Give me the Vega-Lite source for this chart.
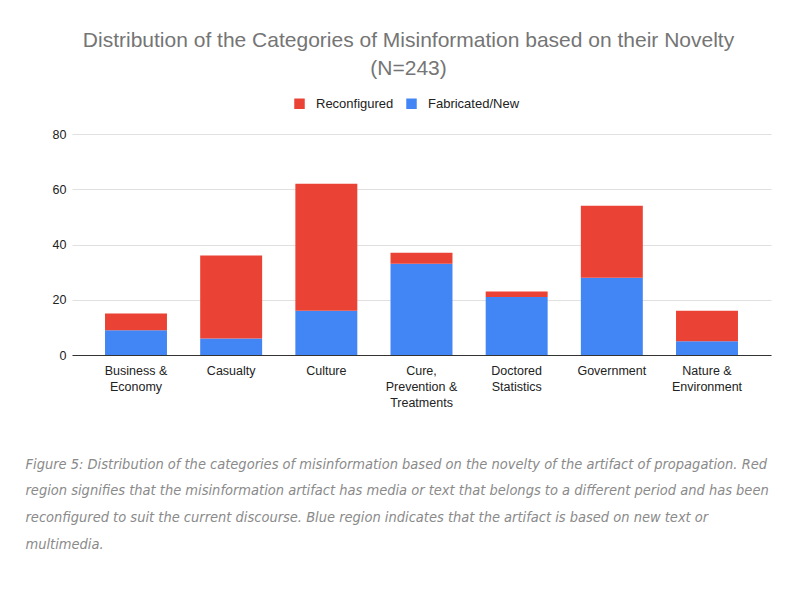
{
  "$schema": "https://vega.github.io/schema/vega-lite/v6.json",
  "width": 699,
  "height": 221,
  "autosize": {"type": "none"},
  "padding": {"left": 72, "top": 134, "right": 29, "bottom": 245},
  "background": "white",
  "title": {
    "text": ["Distribution of the Categories of Misinformation based on their Novelty", "(N=243)"],
    "font": "Liberation Sans",
    "fontSize": 21,
    "fontWeight": "normal",
    "color": "#757575",
    "anchor": "middle",
    "frame": "group",
    "dx": -13,
    "lineHeight": 28,
    "offset": 18
  },
  "data": {
    "values": [
      {"category": "Business & Economy", "type": "Fabricated/New", "count": 9},
      {"category": "Business & Economy", "type": "Reconfigured", "count": 6},
      {"category": "Casualty", "type": "Fabricated/New", "count": 6},
      {"category": "Casualty", "type": "Reconfigured", "count": 30},
      {"category": "Culture", "type": "Fabricated/New", "count": 16},
      {"category": "Culture", "type": "Reconfigured", "count": 46},
      {"category": "Cure, Prevention & Treatments", "type": "Fabricated/New", "count": 33},
      {"category": "Cure, Prevention & Treatments", "type": "Reconfigured", "count": 4},
      {"category": "Doctored Statistics", "type": "Fabricated/New", "count": 21},
      {"category": "Doctored Statistics", "type": "Reconfigured", "count": 2},
      {"category": "Government", "type": "Fabricated/New", "count": 28},
      {"category": "Government", "type": "Reconfigured", "count": 26},
      {"category": "Nature & Environment", "type": "Fabricated/New", "count": 5},
      {"category": "Nature & Environment", "type": "Reconfigured", "count": 11}
    ]
  },
  "mark": {"type": "bar"},
  "encoding": {
    "x": {
      "field": "category",
      "type": "nominal",
      "sort": null,
      "scale": {"paddingInner": 0.349, "paddingOuter": 0.347},
      "axis": {
        "title": [
          "Figure 5: Distribution of the categories of misinformation based on the novelty of the artifact of propagation. Red",
          "region signifies that the misinformation artifact has media or text that belongs to a different period and has been",
          "reconfigured to suit the current discourse. Blue region indicates that the artifact is based on new text or",
          "multimedia."
        ],
        "titleFont": "Liberation Sans Narrow, DejaVu Sans Condensed",
        "titleFontStyle": "italic",
        "titleFontWeight": "normal",
        "titleFontSize": 14.5,
        "titleColor": "#8a8a8a",
        "titleLineHeight": 26.7,
        "titleAnchor": "start",
        "titleAlign": "left",
        "titleBaseline": "top",
        "titleX": -47,
        "titleY": 102,
        "labelAngle": 0,
        "labelFont": "Liberation Sans",
        "labelFontSize": 12.5,
        "labelColor": "#222222",
        "labelLineHeight": 16,
        "labelPadding": 9,
        "labelExpr": "datum.label == 'Business & Economy' ? ['Business &', 'Economy'] : datum.label == 'Cure, Prevention & Treatments' ? ['Cure,', 'Prevention &', 'Treatments'] : datum.label == 'Doctored Statistics' ? ['Doctored', 'Statistics'] : datum.label == 'Nature & Environment' ? ['Nature &', 'Environment'] : datum.label",
        "ticks": false,
        "domainColor": "#333333",
        "domainWidth": 1,
        "grid": false
      }
    },
    "y": {
      "field": "count",
      "type": "quantitative",
      "stack": "zero",
      "scale": {"domain": [0, 80]},
      "axis": {
        "title": null,
        "values": [0, 20, 40, 60, 80],
        "labelFont": "Liberation Sans",
        "labelFontSize": 12.5,
        "labelColor": "#222222",
        "labelPadding": 6,
        "ticks": false,
        "domain": false,
        "gridColor": "#e0e0e0",
        "gridWidth": 1
      }
    },
    "color": {
      "field": "type",
      "type": "nominal",
      "scale": {"domain": ["Reconfigured", "Fabricated/New"], "range": ["#ea4335", "#4285f4"]},
      "legend": {
        "title": null,
        "orient": "none",
        "direction": "horizontal",
        "legendX": 221,
        "legendY": -37,
        "symbolType": "square",
        "symbolSize": 110,
        "symbolStrokeWidth": 0,
        "symbolOpacity": 1,
        "labelFont": "Liberation Sans",
        "labelFontSize": 13,
        "labelColor": "#222222",
        "labelOffset": 10,
        "columnPadding": 11
      }
    },
    "order": {"field": "type", "sort": "ascending"}
  },
  "config": {"view": {"stroke": null}}
}
